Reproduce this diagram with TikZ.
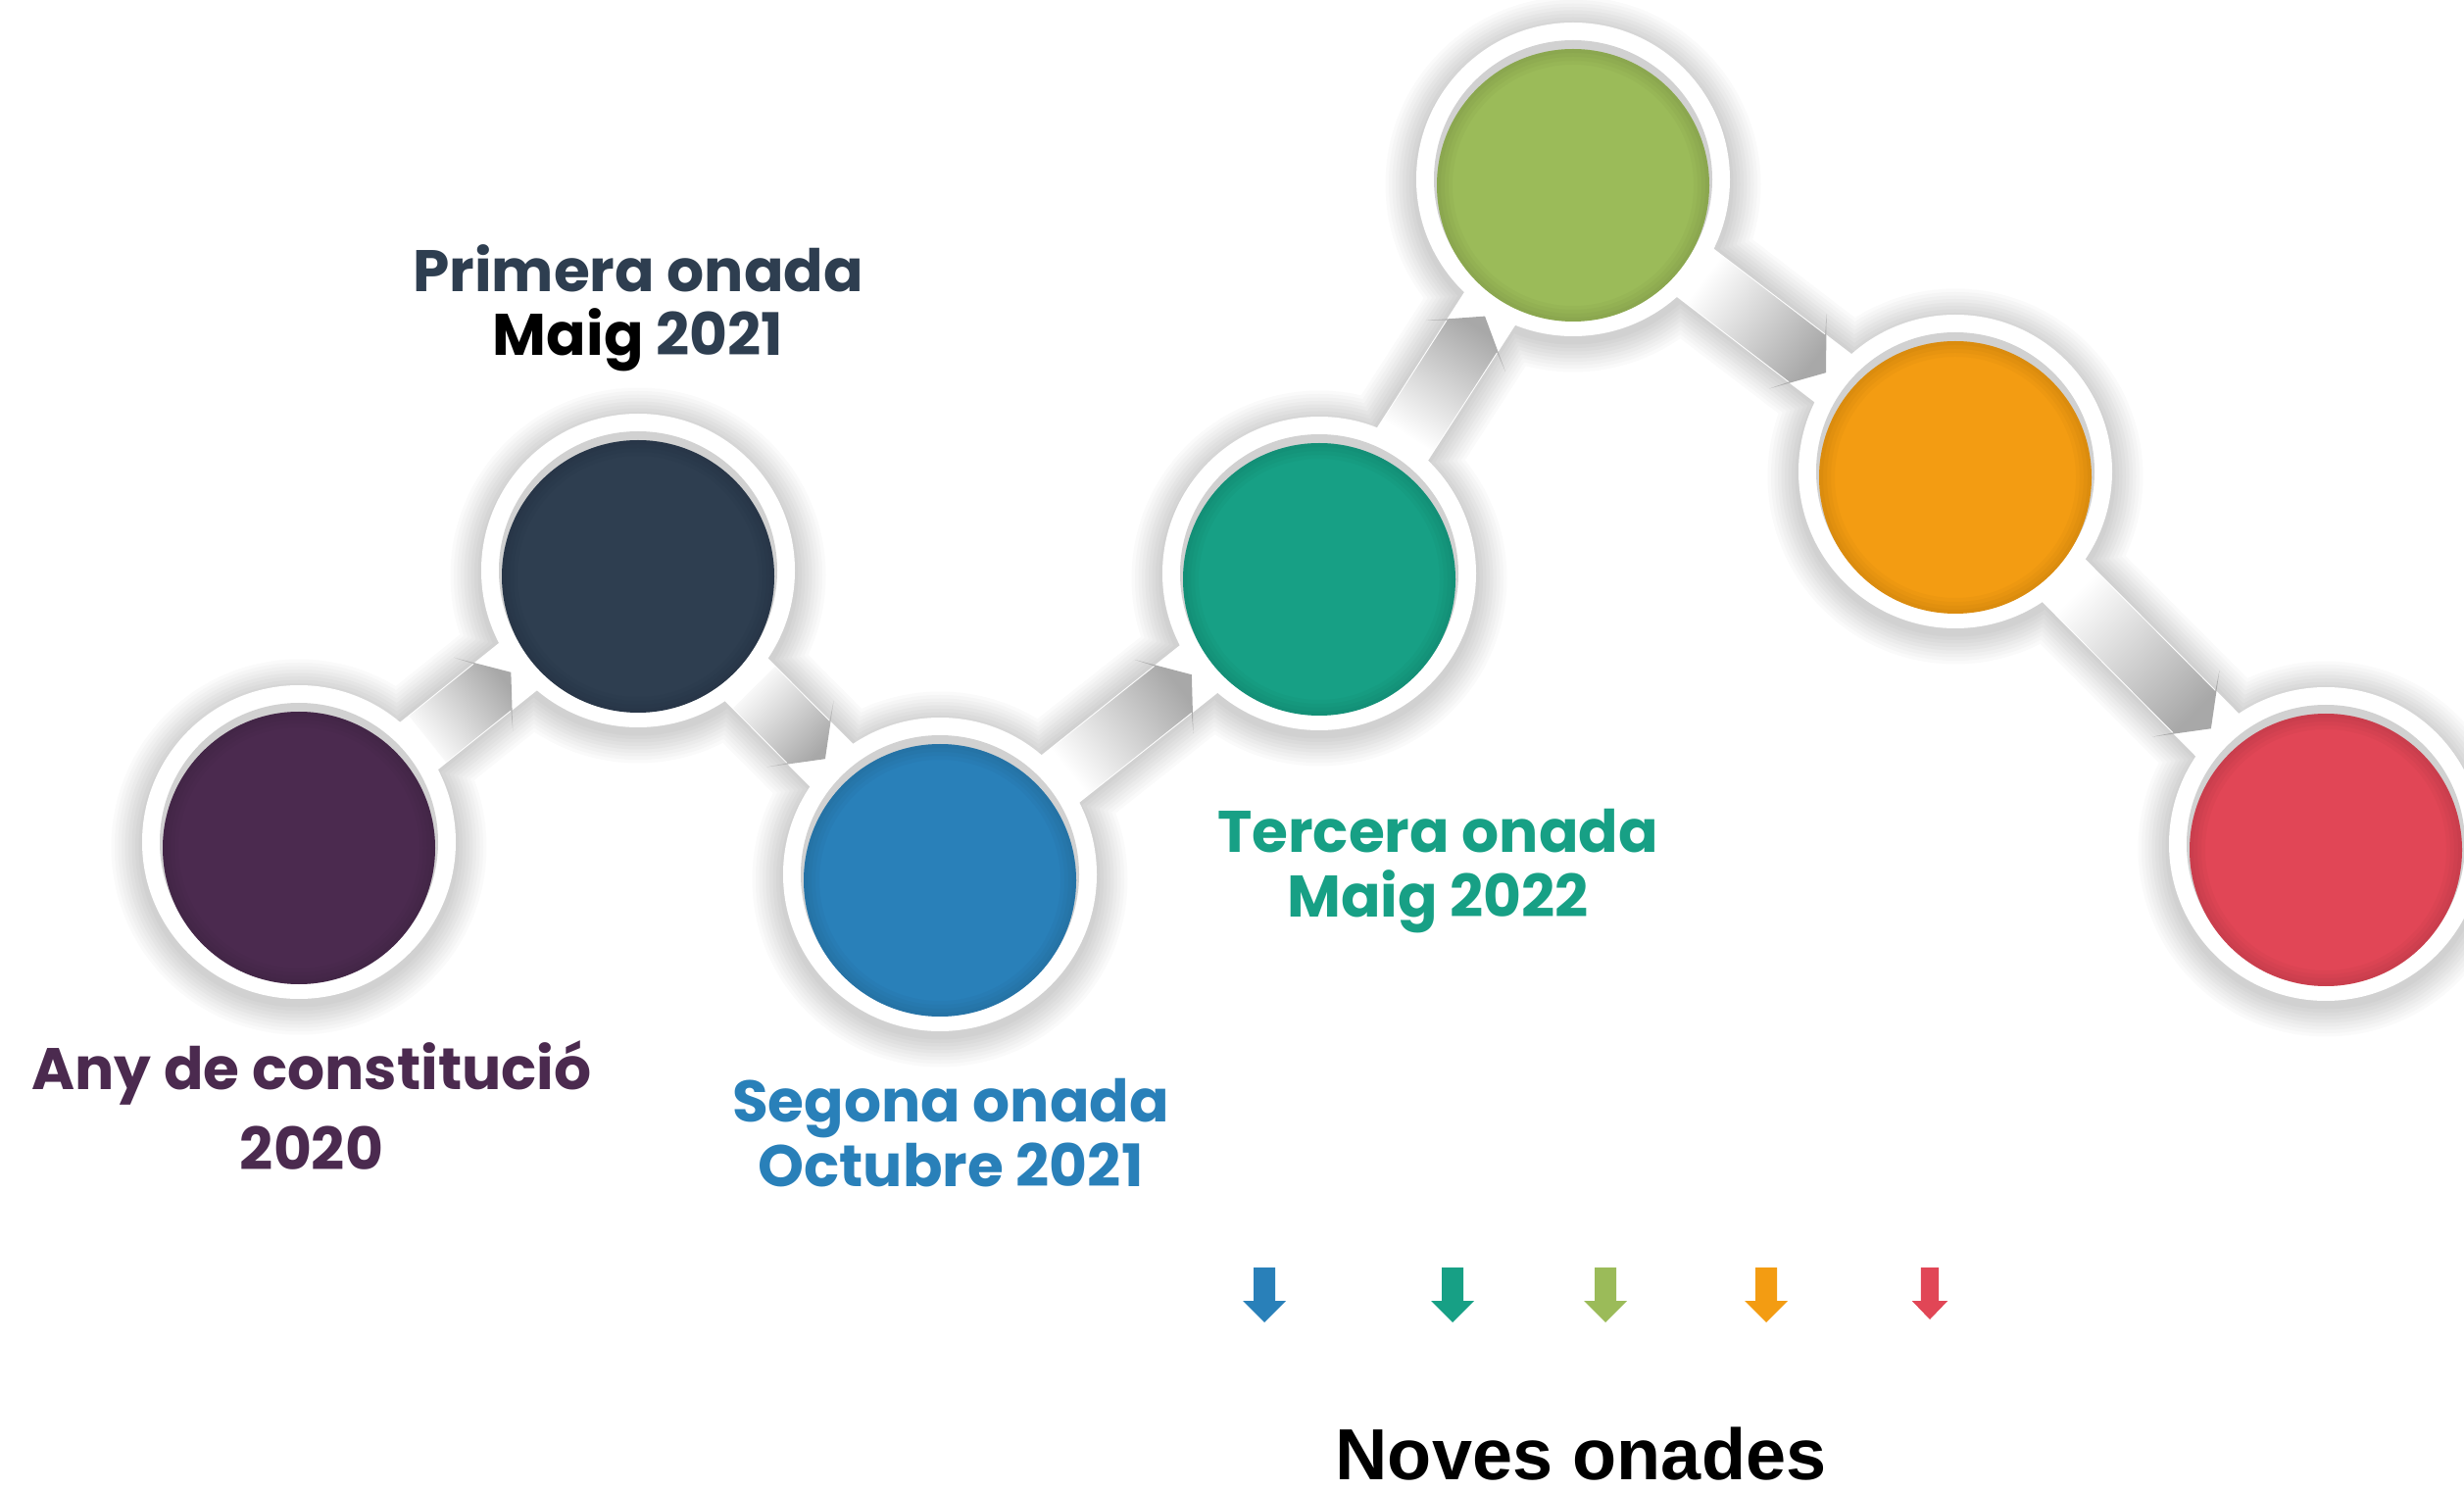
\documentclass[tikz,border=0pt]{standalone}
\usepackage{fontspec}
\setmainfont{Poppins}
\newfontfamily\arialfont{Liberation Sans}
\usepackage{tikz}
\usetikzlibrary{calc}
\definecolor{wavepurple}{HTML}{4B2A4F}
\definecolor{wavenavy}{HTML}{2E3E50}
\definecolor{waveblue}{HTML}{2980B9}
\definecolor{waveteal}{HTML}{17A085}
\definecolor{wavegreen}{HTML}{9BBB59}
\definecolor{waveorange}{HTML}{F39C12}
\definecolor{wavered}{HTML}{E14656}
\tikzstyle{arrowbody}=[top color=black!34, bottom color=white]
\tikzstyle{wavetext}=[align=center, anchor=base, inner sep=0pt, font=\bfseries\fontsize{17}{18.5}\selectfont]
\newcommand{\wavedisc}[2]{
	\fill[black!18] (#1) circle (142);
	\fill[#2] ($(#1)+(0,-6)$) circle (139);
	\foreach \w in {4,8,12,16}
		\draw[black, opacity=0.025, line width=\w*0.01cm] ($(#1)+(0,-6)$) circle (139-\w/2);}
\newcommand{\wavearrow}[3]{
	\pgfmathsetmacro{\shadeang}{#3-90}
	\coordinate (t) at ($(#1)!1.68cm!(#2)$);
	\coordinate (j) at ($(#2)!1.90cm!(#1)$);
	\coordinate (k) at ($(#2)!2.02cm!(#1)$);
	\coordinate (p) at ($(#2)!1.66cm!(#1)$);
	\path[arrowbody, shading angle=\shadeang]
		($(t)!0.3cm!90:(#2)$) -- ($(j)!0.3cm!90:(#2)$) -- ($(k)!0.48cm!90:(#2)$) -- (p)
		-- ($(k)!0.48cm!-90:(#2)$) -- ($(j)!0.3cm!-90:(#2)$) -- ($(t)!0.3cm!-90:(#2)$) -- cycle;}

\begin{document}
\begin{tikzpicture}[x=0.01cm, y=0.01cm]
	\useasboundingbox (0,0) rectangle (2514,1520);

	% centres of the rings
	\coordinate (a) at (305,661);
	\coordinate (b) at (651,938);
	\coordinate (c) at (959,628);
	\coordinate (d) at (1346,935);
	\coordinate (e) at (1605,1337);
	\coordinate (f) at (1995,1039);
	\coordinate (g) at (2373,659);

	% soft shadow
	\foreach \k in {9,...,1}{
		\pgfmathtruncatemacro{\g}{2+2*(9-\k)}
		\foreach \c in {a,...,g}
			\fill[black!\g] ($(\c)+(0,-5)$) circle (160+3.5*\k);
		\draw[black!\g, line width=(62+7*\k)*0.01cm, line join=round] (a) -- (b) -- (c) -- (d) -- (e) -- (f) -- (g);
	}

	% white bands and rings
	\draw[white, line width=0.62cm, line join=round] (a) -- (b) -- (c) -- (d) -- (e) -- (f) -- (g);
	\foreach \c in {a,...,g}
		\fill[white] (\c) circle (160);

	\wavedisc{a}{wavepurple}
	\wavedisc{b}{wavenavy}
	\wavedisc{c}{waveblue}
	\wavedisc{d}{waveteal}
	\wavedisc{e}{wavegreen}
	\wavedisc{f}{waveorange}
	\wavedisc{g}{wavered}

	\wavearrow{a}{b}{38.6}
	\wavearrow{b}{c}{-45.2}
	\wavearrow{c}{d}{38.6}
	\wavearrow{d}{e}{57.0}
	\wavearrow{e}{f}{-37.3}
	\wavearrow{f}{g}{-44.9}

	\node[wavetext, text=wavepurple, font=\bfseries\fontsize{17}{23.3}\selectfont] (any) at (318,327) {Any de constitució\\2020};
	\node[wavetext, text=wavenavy] (primera) at (651,1157) {Primera onada\\{\color{black}Maig} 2021};
	\node[wavetext, text=waveblue] (segona) at (970,310) {Segona onada\\Octubre 2021};
	\node[wavetext, text=waveteal] (tercera) at (1467,585) {Tercera onada\\Maig 2022};

	% new waves
	\foreach \x/\col/\s/\t in {1290/waveblue/1/56, 1482/waveteal/1/56, 1638/wavegreen/1/56, 1802/waveorange/1/56, 1969/wavered/0.83/53}
		\fill[\col, shift={(\x,227)}, xscale=\s] (-11,0) -- (-11,-34) -- (-22,-34) -- (0,-\t) -- (22,-34) -- (11,-34) -- (11,0) -- cycle;
	\node[anchor=base, inner sep=0pt, font=\arialfont\bfseries\fontsize{21}{25}\selectfont] (noves) at (1613,11) {Noves onades};
\end{tikzpicture}
\end{document}
